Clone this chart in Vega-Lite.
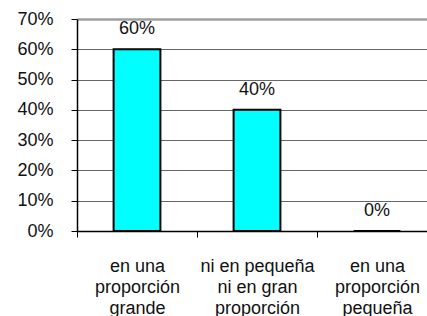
{
  "$schema": "https://vega.github.io/schema/vega-lite/v6.json",
  "width": 350,
  "height": 212,
  "autosize": "none",
  "padding": {"left": 77, "top": 19, "right": 0, "bottom": 85},
  "background": "white",
  "config": {
    "view": {"stroke": null},
    "font": "Liberation Sans"
  },
  "data": {
    "values": [
      {"categoria": "en una proporción grande", "valor": 0.6},
      {"categoria": "ni en pequeña ni en gran proporción", "valor": 0.4},
      {"categoria": "en una proporción pequeña", "valor": 0.0}
    ]
  },
  "encoding": {
    "x": {
      "field": "categoria",
      "type": "nominal",
      "sort": null,
      "title": null,
      "scale": {"range": [0, 360], "paddingInner": 0, "paddingOuter": 0},
      "axis": {
        "labelAngle": 0,
        "grid": false,
        "domainColor": "black",
        "domainWidth": 1.5,
        "tickColor": "black",
        "tickSize": 6,
        "tickBand": "extent",
        "labelPadding": 20,
        "labelFontSize": 18,
        "labelColor": "#111",
        "labelFont": "Liberation Sans",
        "labelBaseline": "top",
        "labelLineHeight": 21,
        "labelOverlap": false,
        "labelExpr": "datum.value == 'en una proporción grande' ? ['en una', 'proporción', 'grande'] : datum.value == 'ni en pequeña ni en gran proporción' ? ['ni en pequeña', 'ni en gran', 'proporción'] : datum.value == 'en una proporción pequeña' ? ['en una', 'proporción', 'pequeña'] : ''"
      }
    },
    "y": {
      "field": "valor",
      "type": "quantitative",
      "title": null,
      "scale": {"domain": [0, 0.7], "nice": false},
      "axis": {
        "format": ".0%",
        "values": [0, 0.1, 0.2, 0.3, 0.4, 0.5, 0.6, 0.7],
        "grid": true,
        "gridColor": {"condition": {"test": "datum.value >= 0.69", "value": "#a0a0a0"}, "value": "#666666"},
        "gridWidth": {"condition": {"test": "datum.value >= 0.69", "value": 2.5}, "value": 1},
        "domainColor": "black",
        "domainWidth": 1.5,
        "tickColor": "black",
        "tickSize": 6,
        "labelPadding": 18,
        "labelFontSize": 18,
        "labelOverlap": false,
        "labelColor": "#111",
        "labelFont": "Liberation Sans"
      }
    }
  },
  "layer": [
    {
      "mark": {"type": "bar", "fill": "#00FFFF", "stroke": "black", "strokeWidth": 2, "width": {"band": 0.39}}
    },
    {
      "mark": {"type": "text", "fontSize": 18, "color": "#111", "baseline": "alphabetic", "dy": -15, "font": "Liberation Sans"},
      "encoding": {
        "text": {"field": "valor", "type": "quantitative", "format": ".0%"}
      }
    }
  ]
}
